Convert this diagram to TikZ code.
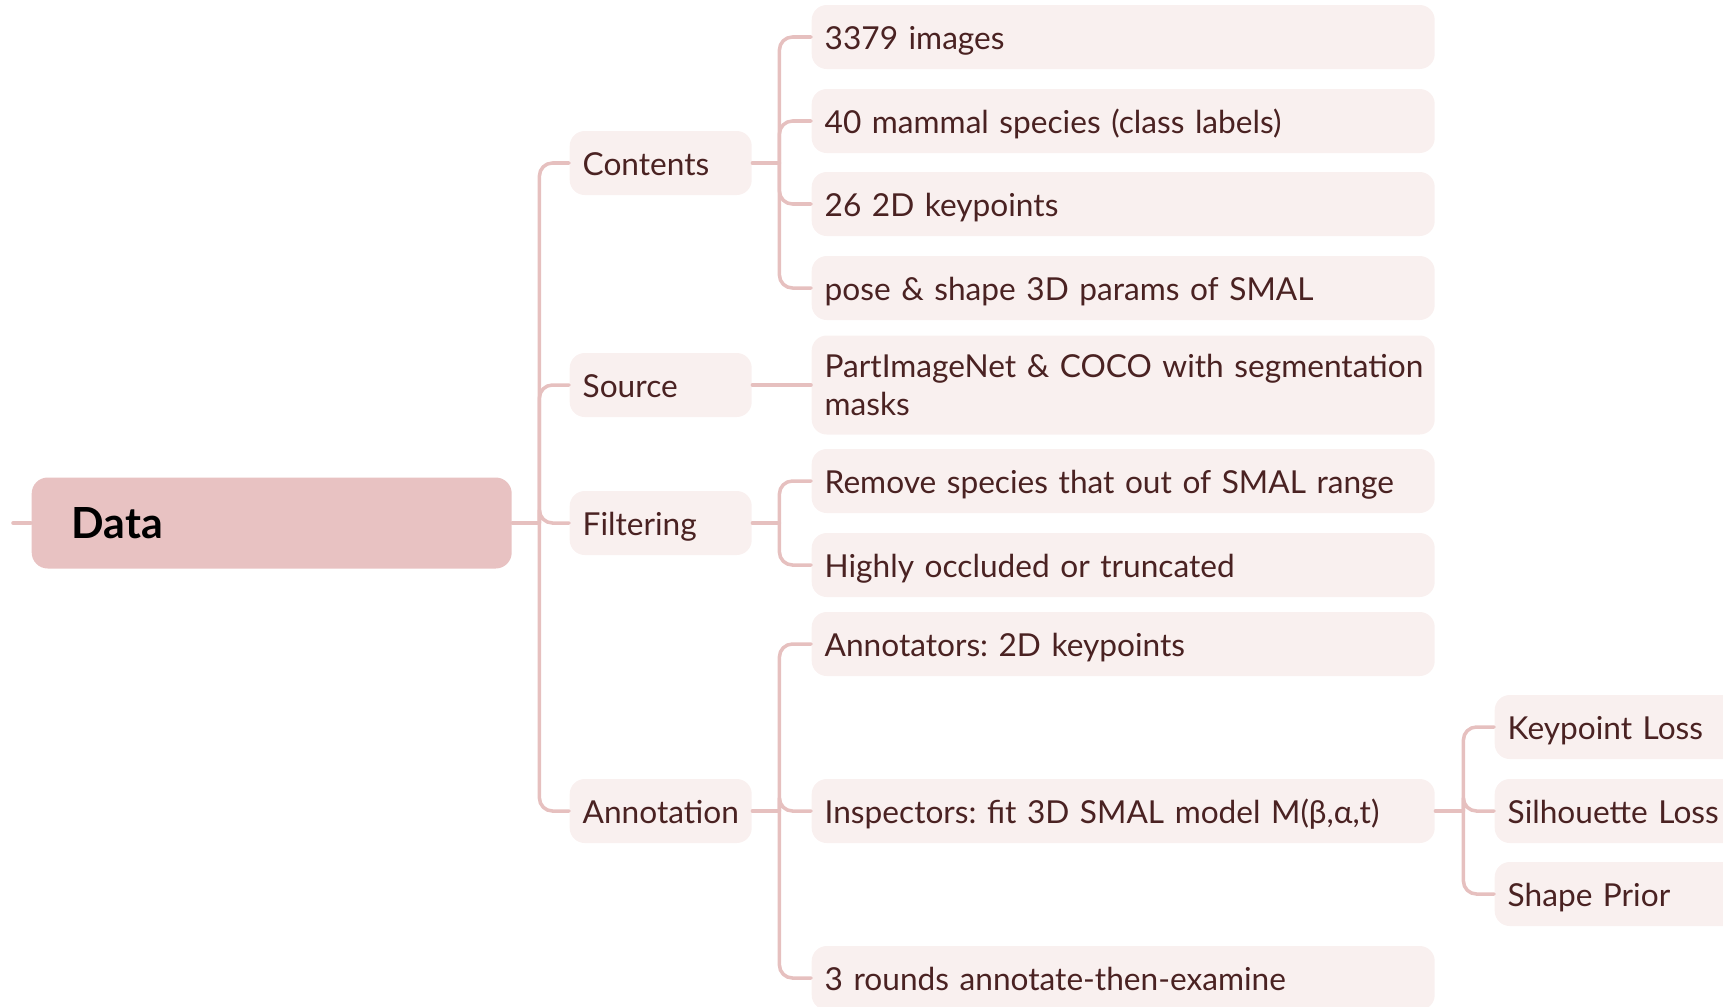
\documentclass[tikz,border=0pt]{standalone}
\usepackage{fontspec}
\setmainfont{Lato}
\usetikzlibrary{calc}
\definecolor{rootfill}{HTML}{E8C2C2}
\definecolor{boxfill}{HTML}{F9F0EF}
\definecolor{linkcol}{HTML}{E6C0BF}
\definecolor{ink}{HTML}{4A2222}
\frenchspacing
\hyphenpenalty=10000
\exhyphenpenalty=10000

\begin{document}
\begin{tikzpicture}[line cap=round, line join=round, font=\fontsize{9}{10.6}\selectfont,
	root/.style={anchor=west, fill=rootfill, rounded corners=1.6mm, text width=4.0cm,
		inner xsep=0.4cm, minimum height=0.91cm, align=left, font=\fontsize{12.2}{14}\selectfont\bfseries},
	box/.style={anchor=west, fill=boxfill, rounded corners=1.5mm, text=ink,
		inner xsep=0.13cm, minimum height=0.64cm, align=left},
	topic/.style={box, text width=1.56cm, text height=0.72em, text depth=0pt},
	leaf/.style={box, text width=5.97cm, text height=0.72em, text depth=0pt},
	sub/.style={box, text width=2.6cm, text height=0.72em, text depth=0pt},
	link/.style={draw=linkcol, line width=1pt, rounded corners=1.3mm}]
\useasboundingbox (0,0) rectangle (17.23,10.06);
%========================
% Root
%========================
\node[root] (data) at (0.31,4.83) {Data};
\coordinate (stub) at (0.13,4.83);
\draw[link] (stub) -- (data.west);

%========================
% First level
%========================
\node[topic] (contents)   at (5.69,8.43) {Contents};
\node[topic] (source)     at (5.69,6.21) {Source};
\node[topic] (filtering)  at (5.69,4.83) {Filtering};
\node[topic] (annotation) at (5.69,1.95) {Annotation};

%========================
% Second level
%========================
% contents
\node[leaf] (images)   at (8.11,9.69) {3379 images};
\node[leaf] (species)  at (8.11,8.85) {40 mammal species (class labels)};
\node[leaf] (kpts)     at (8.11,8.02) {26 2D keypoints};
\node[leaf] (params)   at (8.11,7.18) {pose \& shape 3D params of SMAL};
% source
\node[box, text width=5.97cm, minimum height=0.99cm] (partnet) at (8.11,6.21)
	{\mbox{PartImageNet \& COCO with segmentation}\\masks};
% filtering
\node[leaf] (remove)   at (8.11,5.25) {Remove species that out of SMAL range};
\node[leaf] (occluded) at (8.11,4.41) {Highly occluded or truncated};
% annotation
\node[leaf] (annotators) at (8.11,3.62) {Annotators: 2D keypoints};
\node[leaf] (inspectors) at (8.11,1.95) {Inspectors: fit 3D SMAL model M(β,α,t)};
\node[leaf] (rounds)     at (8.11,0.28) {3 rounds annotate-then-examine};

%========================
% Third level
%========================
\node[sub] (kploss)  at (14.94,2.79) {Keypoint Loss};
\node[sub] (silloss) at (14.94,1.95) {Silhouette Loss};
\node[sub] (prior)   at (14.94,1.12) {Shape Prior};

% junctions
\coordinate (j0) at ($(data.east)+(0.27,0)$);
\coordinate (j1) at ($(contents.east)+(0.27,0)$);
\coordinate (j3) at ($(filtering.east)+(0.27,0)$);
\coordinate (j4) at ($(annotation.east)+(0.27,0)$);
\coordinate (j5) at ($(inspectors.east)+(0.28,0)$);

% links
\draw[link] (data.east) -- (j0);
\foreach \c in {contents,source,filtering,annotation}
	\draw[link] (j0) |- (\c.west);
\draw[link] (contents.east) -- (j1);
\foreach \c in {images,species,kpts,params}
	\draw[link] (j1) |- (\c.west);
\draw[link] (source.east) -- (partnet.west);
\draw[link] (filtering.east) -- (j3);
\foreach \c in {remove,occluded}
	\draw[link] (j3) |- (\c.west);
\draw[link] (annotation.east) -- (j4);
\foreach \c in {annotators,inspectors,rounds}
	\draw[link] (j4) |- (\c.west);
\draw[link] (inspectors.east) -- (j5);
\foreach \c in {kploss,silloss,prior}
	\draw[link] (j5) |- (\c.west);
\end{tikzpicture}
\end{document}
